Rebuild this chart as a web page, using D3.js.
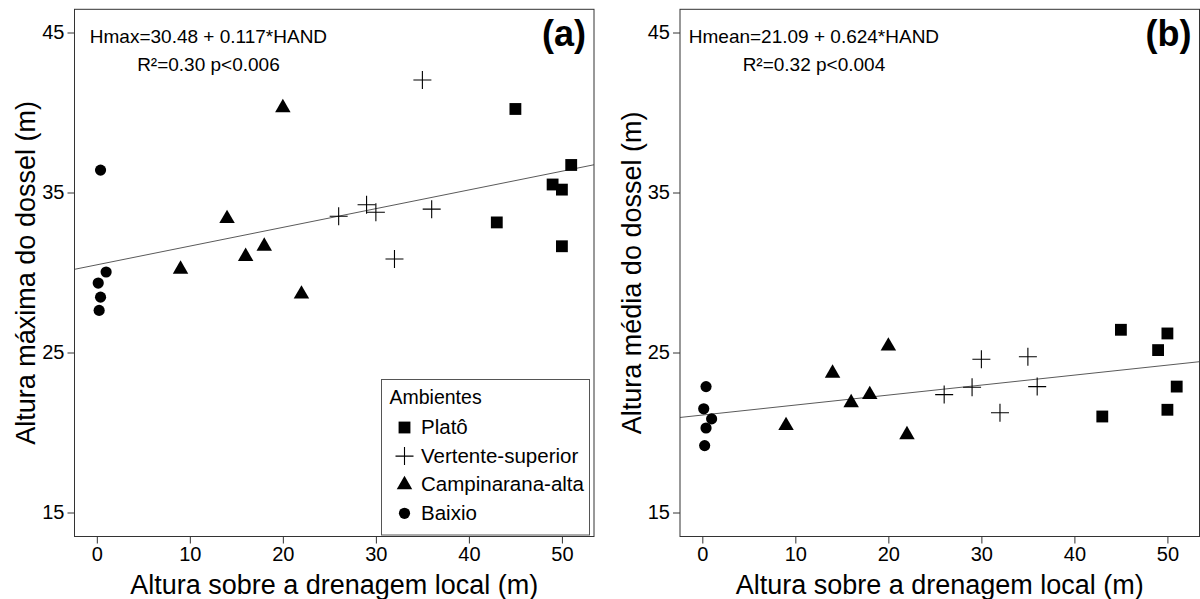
<!DOCTYPE html>
<html>
<head>
<meta charset="utf-8">
<script src="https://cdn.jsdelivr.net/npm/d3@7"></script>
<style>
  html, body { margin: 0; padding: 0; background: #fff; }
  svg { display: block; font-family: "Liberation Sans", Arial, Helvetica, sans-serif; }
</style>
</head>
<body>
<svg id="chart" width="1200" height="599"></svg>
<script>
// ---------------- DATA ----------------
const groups = ["Platô", "Vertente-superior", "Campinarana-alta", "Baixio"];

// HAND (m) per group
const handPlato = [43, 45, 49, 50, 50, 51];
const handVertente = [26, 29, 30, 32, 35, 36];
const handCampinarana = [9, 14, 16, 18, 20, 22];
const handBaixio = [0.4, 0.15, 1.0, 0.4, 0.25];

// Hmax (m) – panel (a)
const hmaxPlato = [33.13, 40.22, 35.5, 35.18, 31.64, 36.72];
const hmaxVertente = [33.52, 34.23, 33.77, 30.84, 42.03, 33.96];
const hmaxCampinarana = [30.2, 33.37, 31.0, 31.64, 40.3, 28.65];
const hmaxBaixio = [36.4, 29.34, 30.03, 28.46, 27.63];

// Hmean (m) – panel (b)
const hmeanPlato = [21.0, 26.42, 25.15, 26.19, 21.42, 22.87];
const hmeanVertente = [22.37, 22.83, 24.58, 21.23, 24.73, 22.87];
const hmeanCampinarana = [20.43, 23.7, 21.86, 22.37, 25.4, 19.86];
const hmeanBaixio = [22.87, 21.48, 20.85, 20.28, 19.18];

// regression lines (intercept, slope) as drawn
const lineA = [30.48, 0.117];
const lineB = [21.09, 0.0624];

// axis ticks
const xTicks = [0, 10, 20, 30, 40, 50];
const yTicks = [15, 25, 35, 45];

// texts
const eqA = ["Hmax=30.48 + 0.117*HAND", "R²=0.30 p<0.006"];
const eqB = ["Hmean=21.09 + 0.624*HAND", "R²=0.32 p<0.004"];
const xTitle = "Altura sobre a drenagem local (m)";
const yTitleA = "Altura máxima do dossel (m)";
const yTitleB = "Altura média do dossel (m)";

// ---------------- DRAW ----------------
const svg = d3.select("#chart");
const FONT_TICK = 20, FONT_TITLE = 27, FONT_EQ = 19;

const xDomain = [-2.4, 53.45];
const yDomain = [13.5, 46.45];

// custom plus symbol (stroked)
const symbolPlus = {
  draw(ctx, size) {
    const r = Math.sqrt(size) / 2;
    ctx.moveTo(-r, 0); ctx.lineTo(r, 0);
    ctx.moveTo(0, -r); ctx.lineTo(0, r);
  }
};
const shapes = {
  "Platô": { type: d3.symbolSquare, size: 140, fill: true },
  "Vertente-superior": { type: symbolPlus, size: 324, fill: false },
  "Campinarana-alta": { type: d3.symbolTriangle, size: 104, fill: true },
  "Baixio": { type: d3.symbolCircle, size: 98, fill: true }
};

function drawSymbol(g, name, x, y) {
  const s = shapes[name];
  const p = g.append("path")
    .attr("d", d3.symbol().type(s.type).size(s.size)())
    .attr("transform", `translate(${x},${y})`);
  if (s.fill) p.attr("fill", "#000").attr("stroke", "none");
  else p.attr("fill", "none").attr("stroke", "#000").attr("stroke-width", 1.1);
}

function panel(opts) {
  const { left, top, width, height, hand, vals, line, eq, label, yTitle } = opts;
  const x = d3.scaleLinear().domain(xDomain).range([left, left + width]);
  const y = d3.scaleLinear().domain(yDomain).range([top + height, top]);
  const g = svg.append("g");

  const clipId = "clip" + label.replace(/\W/g, "");
  svg.append("clipPath").attr("id", clipId)
    .append("rect").attr("x", left).attr("y", top).attr("width", width).attr("height", height);

  // axes
  const xAxis = d3.axisBottom(x).tickValues(xTicks).tickSize(7).tickPadding(3).tickFormat(d3.format("d"));
  const yAxis = d3.axisLeft(y).tickValues(yTicks).tickSize(7).tickPadding(3).tickFormat(d3.format("d"));
  const gx = g.append("g").attr("transform", `translate(0,${top + height})`).call(xAxis);
  const gy = g.append("g").attr("transform", `translate(${left},0)`).call(yAxis);
  [gx, gy].forEach(a => {
    a.select(".domain").remove();
    a.selectAll(".tick line").attr("stroke", "#333").attr("stroke-width", 1);
    a.selectAll(".tick text").attr("fill", "#000").attr("font-size", FONT_TICK)
      .attr("font-family", "Liberation Sans, Arial, sans-serif");
  });

  // regression line
  g.append("line")
    .attr("clip-path", `url(#${clipId})`)
    .attr("x1", x(xDomain[0])).attr("y1", y(line[0] + line[1] * xDomain[0]))
    .attr("x2", x(xDomain[1])).attr("y2", y(line[0] + line[1] * xDomain[1]))
    .attr("stroke", "#5a5a5a").attr("stroke-width", 1);

  // points
  groups.forEach((name, gi) => {
    hand[gi].forEach((h, i) => drawSymbol(g, name, x(h), y(vals[gi][i])));
  });

  // panel border
  g.append("rect").attr("x", left).attr("y", top).attr("width", width).attr("height", height)
    .attr("fill", "none").attr("stroke", "#333").attr("stroke-width", 1);

  // equation text (centered at HAND = 12)
  g.append("text").attr("x", x(12)).attr("y", top + 34).attr("text-anchor", "middle")
    .attr("font-size", FONT_EQ).attr("fill", "#000").text(eq[0]);
  g.append("text").attr("x", x(12)).attr("y", top + 61.5).attr("text-anchor", "middle")
    .attr("font-size", FONT_EQ).attr("fill", "#000").text(eq[1]);

  // panel label
  g.append("text").attr("x", left + width - 8).attr("y", top + 36.5).attr("text-anchor", "end")
    .attr("font-size", 36).attr("font-weight", "bold").attr("fill", "#000").text(label);

  // axis titles
  g.append("text").attr("x", left + width / 2).attr("y", 594).attr("text-anchor", "middle")
    .attr("font-size", FONT_TITLE).attr("fill", "#000").text(xTitle);
  g.append("text")
    .attr("transform", `translate(${left - 39.5},${top + height / 2}) rotate(-90)`)
    .attr("text-anchor", "middle").attr("font-size", FONT_TITLE).attr("fill", "#000").text(yTitle);
  return g;
}

const TOP = 9.3, HEIGHT = 527.2, WIDTH = 519.5;
panel({ left: 74.5, top: TOP, width: WIDTH, height: HEIGHT,
  hand: [handPlato, handVertente, handCampinarana, handBaixio],
  vals: [hmaxPlato, hmaxVertente, hmaxCampinarana, hmaxBaixio],
  line: lineA, eq: eqA, label: "(a)", yTitle: yTitleA });
panel({ left: 680, top: TOP, width: WIDTH, height: HEIGHT,
  hand: [handPlato, handVertente, handCampinarana, handBaixio],
  vals: [hmeanPlato, hmeanVertente, hmeanCampinarana, hmeanBaixio],
  line: lineB, eq: eqB, label: "(b)", yTitle: yTitleB });

// legend (panel a)
const lg = svg.append("g");
lg.append("rect").attr("x", 381.5).attr("y", 379.5).attr("width", 208).attr("height", 155.5)
  .attr("fill", "#fff").attr("stroke", "#555").attr("stroke-width", 1);
lg.append("text").attr("x", 389.5).attr("y", 404).attr("font-size", 19.5).attr("fill", "#000").text("Ambientes");
groups.forEach((name, i) => {
  const cy = 427.5 + i * 28.6;
  drawSymbol(lg, name, 404.5, cy);
  lg.append("text").attr("x", 421).attr("y", cy + 6.5).attr("font-size", 20.5)
    .attr("fill", "#000").text(name);
});
</script>
</body>
</html>
